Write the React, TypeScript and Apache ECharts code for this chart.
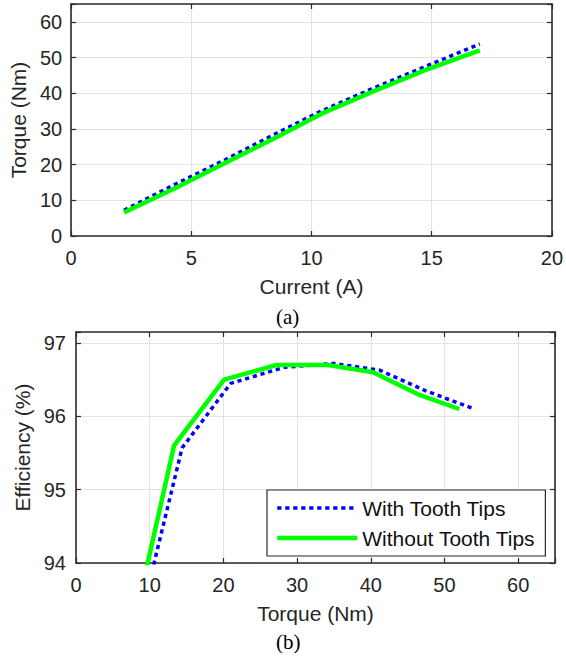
import React, { useEffect, useRef } from "react";
import * as echarts from "echarts";

// Operating points (current sweep)
const currentA = [2.2, 4.3, 6.3, 8.4, 10.4, 12.5, 14.7, 17.0];
const torqueWith = [7.2, 14.4, 21.0, 28.3, 35.0, 41.2, 47.4, 53.8];
const torqueWithout = [6.6, 13.3, 20.1, 27.2, 34.2, 40.3, 46.4, 52.0];
const effWith = [92.6, 95.57, 96.45, 96.67, 96.72, 96.63, 96.35, 96.11];
const effWithout = [92.6, 95.6, 96.5, 96.7, 96.7, 96.6, 96.3, 96.1];

const seriesNames = ["With Tooth Tips", "Without Tooth Tips"];
const labelA = "(a)";
const labelB = "(b)";

const FONT = "'Liberation Sans', Arial, Helvetica, sans-serif";
const SERIF = "'Liberation Serif', 'Times New Roman', serif";
const AX = "#2b2b2b";
const GRID = "#e3e3e3";

function pairs(xs: number[], ys: number[]) {
  return xs.map((x, i) => [x, ys[i]]);
}

function fmt(interval: number) {
  return (v: number) => {
    const k = Math.round(v / interval);
    return Math.abs(v - k * interval) < 1e-6 ? String(v) : "";
  };
}

const tickStyle = { show: true, inside: true, length: 5, lineStyle: { color: AX, width: 1.2 } };
const lineAx = { show: true, onZero: false, lineStyle: { color: AX, width: 1.6 } };

function mainX(gridIndex: number, min: number, max: number, interval: number, name: string, gap: number) {
  return {
    type: "value",
    gridIndex,
    min,
    max,
    interval,
    position: "bottom",
    name,
    nameLocation: "middle",
    nameGap: gap,
    nameTextStyle: { fontFamily: FONT, fontSize: 21, color: "#262626" },
    axisLine: lineAx,
    axisTick: tickStyle,
    axisLabel: { show: true, margin: 12, fontFamily: FONT, fontSize: 20, color: "#262626", formatter: fmt(interval) },
    splitLine: { show: true, lineStyle: { color: GRID, width: 1 } },
  };
}

function mirrorX(gridIndex: number, min: number, max: number, interval: number) {
  return {
    type: "value",
    gridIndex,
    min,
    max,
    interval,
    position: "top",
    axisLine: lineAx,
    axisTick: tickStyle,
    axisLabel: { show: false },
    splitLine: { show: false },
  };
}

function mainY(gridIndex: number, min: number, max: number, interval: number, name: string, gap: number, margin: number) {
  return {
    type: "value",
    gridIndex,
    min,
    max,
    interval,
    position: "left",
    name,
    nameLocation: "middle",
    nameGap: gap,
    nameTextStyle: { fontFamily: FONT, fontSize: 21, color: "#262626" },
    axisLine: lineAx,
    axisTick: tickStyle,
    axisLabel: { show: true, margin, fontFamily: FONT, fontSize: 20, color: "#262626", formatter: fmt(interval) },
    splitLine: { show: true, lineStyle: { color: GRID, width: 1 } },
  };
}

function mirrorY(gridIndex: number, min: number, max: number, interval: number) {
  return {
    type: "value",
    gridIndex,
    min,
    max,
    interval,
    position: "right",
    axisLine: lineAx,
    axisTick: tickStyle,
    axisLabel: { show: false },
    splitLine: { show: false },
  };
}

const blueDash = [4.2, 3.8];
const blueStyle = { color: "#0000ff", width: 3.5, type: blueDash as any, cap: "butt" as const };
const greenStyle = { color: "#00ff00", width: 4.5, type: "solid" as const };

export default function App() {
  const ref = useRef<HTMLDivElement>(null);

  useEffect(() => {
    if (!ref.current) return;
    const chart = echarts.init(ref.current, undefined, { renderer: "svg" });
    chart.setOption({
      animation: false,
      backgroundColor: "#ffffff",
      grid: [
        { left: 71, top: 4, width: 484, height: 232 },
        { left: 76, top: 332, width: 479, height: 231 },
      ],
      xAxis: [
        mainX(0, 0, 20, 5, "Current (A)", 40),
        mirrorX(0, 0, 20, 5),
        mainX(1, 0, 65, 10, "Torque (Nm)", 40),
        mirrorX(1, 0, 65, 10),
      ],
      yAxis: [
        mainY(0, 0, 65, 10, "Torque (Nm)", 37, 9),
        mirrorY(0, 0, 65, 10),
        mainY(1, 94, 97.15, 1, "Efficiency (%)", 39, 10),
        mirrorY(1, 94, 97.15, 1),
      ],
      legend: {
        show: true,
        data: [
          { name: seriesNames[0], lineStyle: { width: 3.5, type: blueDash, color: "#0000ff" } },
          { name: seriesNames[1], lineStyle: { width: 4.5, type: "solid", color: "#00ff00" } },
        ],
        orient: "vertical",
        left: 267,
        top: 490,
        itemWidth: 80,
        itemHeight: 14,
        itemGap: 8,
        padding: [7, 10, 7, 8],
        backgroundColor: "#ffffff",
        borderColor: AX,
        borderWidth: 1.2,
        borderRadius: 0,
        selectedMode: false,
        itemStyle: { opacity: 0 },
        lineStyle: { width: "inherit" },
        textStyle: { fontFamily: FONT, fontSize: 21, color: "#111111", lineHeight: 22 },
      },
      series: [
        {
          name: seriesNames[0],
          type: "line",
          xAxisIndex: 0,
          yAxisIndex: 0,
          data: pairs(currentA, torqueWith),
          symbol: "none",
          showSymbol: false,
          lineStyle: blueStyle,
          z: 3,
        },
        {
          name: seriesNames[1],
          type: "line",
          xAxisIndex: 0,
          yAxisIndex: 0,
          data: pairs(currentA, torqueWithout),
          symbol: "none",
          showSymbol: false,
          lineStyle: greenStyle,
          z: 4,
        },
        {
          name: seriesNames[0],
          type: "line",
          xAxisIndex: 2,
          yAxisIndex: 2,
          data: pairs(torqueWith, effWith),
          symbol: "none",
          showSymbol: false,
          clip: true,
          lineStyle: blueStyle,
          z: 3,
        },
        {
          name: seriesNames[1],
          type: "line",
          xAxisIndex: 2,
          yAxisIndex: 2,
          data: pairs(torqueWithout, effWithout),
          symbol: "none",
          showSymbol: false,
          clip: true,
          lineStyle: greenStyle,
          z: 4,
        },
      ],
      graphic: [
        {
          type: "text",
          left: 276,
          top: 306,
          style: { text: labelA, fontFamily: SERIF, fontSize: 21, fill: "#000" },
        },
        {
          type: "text",
          left: 276,
          top: 631,
          style: { text: labelB, fontFamily: SERIF, fontSize: 21, fill: "#000" },
        },
      ],
    });
    return () => chart.dispose();
  }, []);

  return (
    <div
      ref={ref}
      style={{ position: "fixed", left: 0, top: 0, width: 566, height: 660, background: "#fff" }}
    />
  );
}
